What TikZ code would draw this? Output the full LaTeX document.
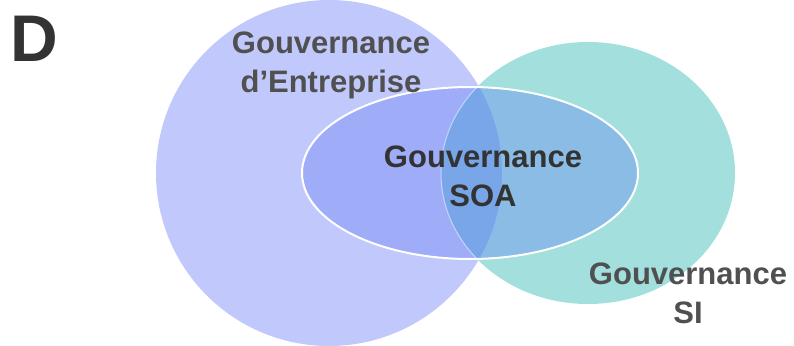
\documentclass[tikz,border=0pt]{standalone}
\usepackage{fontspec}
\setmainfont{Liberation Sans}
\usetikzlibrary{positioning}

\definecolor{entreprise}{RGB}{193,200,252}
\definecolor{sicolor}{RGB}{162,223,221}
\definecolor{soacolor}{RGB}{97,124,246}
\definecolor{lenscolor}{RGB}{120,166,232}
\definecolor{darktext}{RGB}{51,51,51}
\definecolor{softtext}{RGB}{80,80,80}

\tikzset{
	setname/.style={font=\bfseries\fontsize{31}{39}\selectfont, align=center, anchor=base, inner sep=0pt, text=softtext},
	bigletter/.style={font=\bfseries\fontsize{66}{70}\selectfont, anchor=base west, inner sep=0pt, text=darktext},
	entreprisecircle/.style={fill=entreprise},
	sishape/.style={fill=sicolor},
}

\begin{document}
\begin{tikzpicture}[x=1pt, y=-1pt]
	\useasboundingbox (0,0) rectangle (794,345);
	% the three sets
	\fill [entreprisecircle] (329,173) circle [radius=173pt];
	\fill [sishape] (588,173) ellipse [x radius=147pt, y radius=131pt];
	\fill [soacolor, fill opacity=.35] (470,173) ellipse [x radius=168pt, y radius=86pt];
	% overlap of entreprise and SI
	\begin{scope}
		\clip (329,173) circle [radius=173pt];
		\fill [lenscolor] (588,173) ellipse [x radius=147pt, y radius=131pt];
		\draw [white, opacity=.5, line width=1pt] (588,173) ellipse [x radius=147pt, y radius=131pt];
	\end{scope}
	\draw [white, line width=2pt] (470,173) ellipse [x radius=168pt, y radius=86pt];

	\node [bigletter]	(Letter)		at (10,62)	{D};
	\node [setname]		(Entreprise)	at (331,92)	{Gouvernance\\d’Entreprise};
	\node [setname, text=darktext]	(SOA)	at (483,206)	{Gouvernance\\SOA};
	\node [setname]		(SI)			at (688,323)	{Gouvernance\\SI};
\end{tikzpicture}
\end{document}
